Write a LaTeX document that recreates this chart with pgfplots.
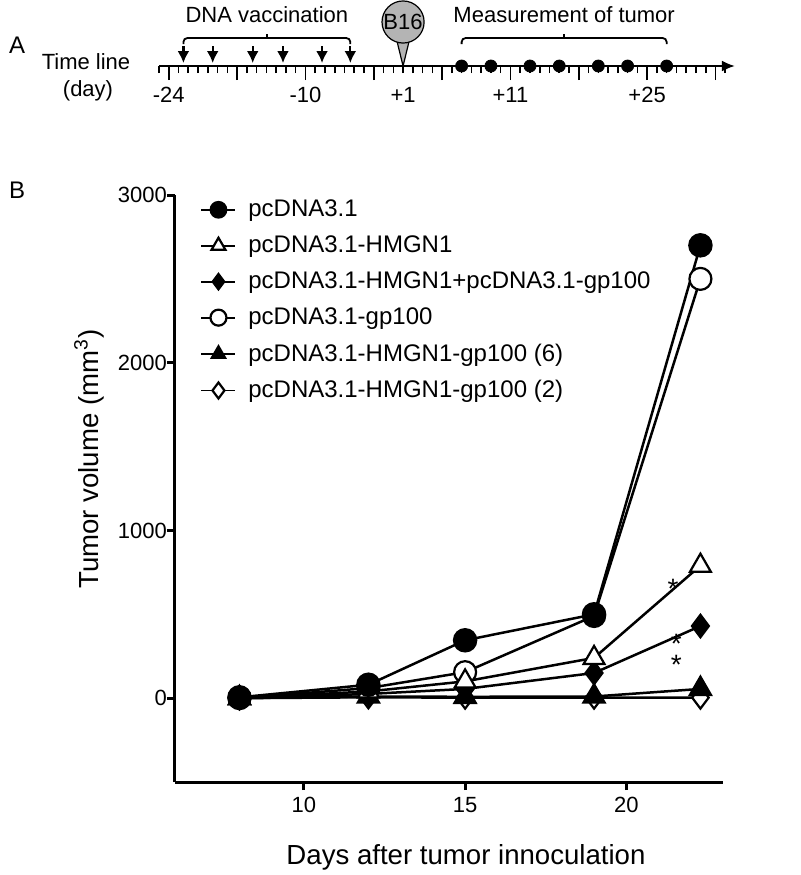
\documentclass[border=0pt]{standalone}
\usepackage{fontspec}
\setmainfont{Liberation Sans}
\usepackage{pgfplots}
\pgfplotsset{compat=1.18}
\usetikzlibrary{arrows.meta}
\definecolor{balloon}{RGB}{180,180,180}
\newcommand{\sigstar}{\smash{\raisebox{-8pt}{*}}}

\begin{document}
\begin{tikzpicture}
\path[use as bounding box] (0pt,0pt) rectangle (400pt,-437.5pt);

% ---------------- Panel A ----------------
\node[anchor=west, font=\fontsize{12}{14}\selectfont] at (1pt,-22.5pt) {A};
\node[font=\fontsize{11}{13}\selectfont] at (43pt,-31pt) {Time line};
\node[font=\fontsize{11}{13}\selectfont] at (44pt,-45.5pt) {(day)};

\begin{axis}[
  at={(79.5pt,-33pt)}, anchor=south west, scale only axis,
  width=288pt, height=33pt,
  xmin=-25, xmax=34, ymin=0, ymax=66,
  axis x line=bottom, axis y line=none,
  x axis line style={line width=1.1pt, -{Latex[length=6.5pt,width=5.5pt]}},
  xtick={-24,-17,-10,-3,4,11,18,25,32},
  xticklabels={-24,,-10,,,+11,,+25,},
  minor xtick={-25,-24,...,33},
  extra x ticks={0}, extra x tick labels={+1},
  extra x tick style={major tick length=7pt, tick style={draw=none}},
  tick align=outside,
  major tick length=7pt, minor tick length=3.5pt,
  every tick/.style={black, line width=0.8pt},
  tick label style={font=\fontsize{11}{13}\selectfont},
  clip=false,
]
% vaccination arrows
\addplot[black, line width=1.1pt, quiver={u=0, v=-17}, -{Latex[length=6pt,width=6pt]}]
  coordinates {(-22.5,20) (-19.5,20) (-15.4,20) (-12.3,20) (-8.3,20) (-5.4,20)};
% measurement dots
\addplot[black, only marks, mark=*, mark size=3pt]
  coordinates {(6,0) (9,0) (13,0) (16,0) (20,0) (23,0) (27,0)};
% brackets
\addplot[black, line width=0.9pt, rounded corners=2pt]
  coordinates {(-22.5,22) (-22.5,28) (-5.4,28) (-5.4,22)};
\addplot[black, line width=0.9pt] coordinates {(-13.95,28) (-13.95,32)};
\addplot[black, line width=0.9pt, rounded corners=2pt]
  coordinates {(6,22) (6,28) (27,28) (27,22)};
\addplot[black, line width=0.9pt] coordinates {(16.5,28) (16.5,32)};
% B16 balloon
\addplot[fill=balloon, draw=black, line width=0.6pt]
  coordinates {(-0.8,32) (0,0) (0.8,32)};
\node[circle, draw=black, line width=0.6pt, fill=balloon, minimum size=21pt,
      inner sep=0pt, font=\fontsize{11}{12}\selectfont] at (axis cs:0,44) {B16};
\node[font=\fontsize{11}{13}\selectfont] at (axis cs:-13.95,51) {DNA vaccination};
\node[font=\fontsize{11}{13}\selectfont] at (axis cs:16.5,51) {Measurement of tumor};
\end{axis}

% ---------------- Panel B ----------------
\node[anchor=west, font=\fontsize{12}{14}\selectfont] at (1pt,-95pt) {B};

\begin{axis}[
  at={(87.5pt,-391pt)}, anchor=south west, scale only axis,
  width=274pt, height=293.5pt,
  xmin=6, xmax=23, ymin=-500, ymax=3000,
  axis x line*=bottom, axis y line*=left,
  axis line style={line width=1.5pt},
  xtick={10,15,20}, ytick={0,1000,2000,3000},
  tick align=outside, major tick length=4pt,
  every tick/.style={black, line width=1.5pt},
  tick label style={font=\fontsize{11}{12}\selectfont},
  /pgf/number format/assume math mode=true,
  scaled y ticks=false,
  yticklabel style={/pgf/number format/1000 sep={}, xshift=3.5pt},
  xlabel={Days after tumor innoculation},
  ylabel={Tumor volume (mm\textsuperscript{3})},
  label style={font=\fontsize{13.8}{16}\selectfont},
  xlabel style={at={(axis description cs:0.531,-0.128)}, anchor=center},
  ylabel style={at={(axis description cs:-0.157,0.55)}, anchor=center},
  legend style={at={(0.035,1.006)}, anchor=north west, draw=none, fill=none,
    font=\fontsize{12}{14}\selectfont, row sep=4.1pt,
    /tikz/every odd column/.append style={column sep=4pt}},
  legend cell align=left,
  legend image code/.code={\draw[mark repeat=2, mark phase=2, mark size=4pt, line width=0.9pt]
     plot coordinates {(0pt,0pt) (8.5pt,0pt) (17pt,0pt)};},
  reverse legend,
  clip=false,
]
\addplot[black, line width=1.25pt, mark=diamond*, mark size=5.5pt,
  mark options={fill=white, line width=1.1pt}]
  coordinates {(8,0) (12,5) (15,3) (19,3) (22.3,3)};
\addlegendentry{pcDNA3.1-HMGN1-gp100 (2)}
\addplot[black, line width=1.25pt, mark=triangle*, mark size=6pt,
  mark options={fill=black}]
  coordinates {(8,0) (12,10) (15,8) (19,10) (22.3,55)};
\addlegendentry{pcDNA3.1-HMGN1-gp100 (6)}
\addplot[black, line width=1.25pt, mark=*, mark size=5.5pt,
  mark options={fill=white, line width=1.1pt}]
  coordinates {(8,0) (12,60) (15,155) (19,490) (22.3,2500)};
\addlegendentry{pcDNA3.1-gp100}
\addplot[black, line width=1.25pt, mark=diamond*, mark size=5.5pt,
  mark options={fill=black}]
  coordinates {(8,0) (12,25) (15,55) (19,150) (22.3,430)};
\addlegendentry{pcDNA3.1-HMGN1+pcDNA3.1-gp100}
\addplot[black, line width=1.25pt, mark=triangle*, mark size=6pt,
  mark options={fill=white, line width=1.1pt}]
  coordinates {(8,0) (12,40) (15,100) (19,240) (22.3,790)};
\addlegendentry{pcDNA3.1-HMGN1}
\addplot[black, line width=1.25pt, mark=*, mark size=5.5pt,
  mark options={fill=black}]
  coordinates {(8,5) (12,80) (15,345) (19,500) (22.3,2700)};
\addlegendentry{pcDNA3.1}

\node[font=\fontsize{14}{15}\selectfont, inner sep=0pt] at (axis cs:21.45,690) {\sigstar};
\node[font=\fontsize{14}{15}\selectfont, inner sep=0pt] at (axis cs:21.55,360) {\sigstar};
\node[font=\fontsize{14}{15}\selectfont, inner sep=0pt] at (axis cs:21.55,235) {\sigstar};
\end{axis}
\end{tikzpicture}
\end{document}
